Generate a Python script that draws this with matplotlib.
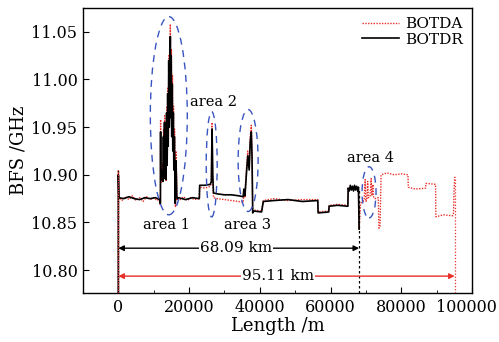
import matplotlib
matplotlib.use("Agg")
import matplotlib.pyplot as plt
import matplotlib.transforms as mtransforms
from matplotlib.patches import Ellipse

plt.rcParams['font.family'] = ['DejaVu Serif']
plt.rcParams['mathtext.fontset'] = 'dejavuserif'

# ---------------- data ----------------
botdr_x = [0, 0, 150, 1500, 3000, 4500, 6000, 7500, 9000, 10500, 11700, 11800, 11900, 11950,
           12000, 12150, 12300, 12450, 12600, 12750, 12900, 13050, 13200, 13350, 13500, 13650,
           13800, 13950, 14100, 14250, 14400, 14550, 14700, 14800, 14950, 15100, 15250, 15400,
           15550, 15700, 15850, 16000, 16100, 16250, 16400, 16550, 16700,
           17000, 19000, 21000, 22900, 23000, 24500, 26000, 26300, 26500, 26700, 26900, 28000,
           30000, 32000, 34000, 35300, 35500, 35800, 36200, 36600, 37000, 37300, 37600, 37800,
           38000, 38300, 40500, 41000, 44000, 48000, 52000, 56400, 56500, 59500, 59600, 62000,
           64900, 65000, 65300, 65600, 65900, 66200, 66500, 66800, 67100, 67400, 67700, 67900, 68090]
botdr_y = [10.775, 10.900, 10.876, 10.875, 10.877, 10.875, 10.874, 10.876, 10.875, 10.876, 10.874,
           10.870, 10.870, 10.945,
           10.895, 10.905, 10.895, 10.900, 10.893, 10.940, 10.896, 10.955, 10.900, 10.930, 10.895,
           10.965, 10.910, 10.985, 10.930, 11.020, 10.950, 10.990, 11.045, 10.960, 11.025, 10.940,
           10.995, 10.925, 10.965, 10.905, 10.940, 10.900, 10.870, 10.915, 10.900, 10.876, 10.875,
           10.876, 10.874, 10.876, 10.875, 10.889, 10.889,
           10.890, 10.893, 10.948, 10.900, 10.881, 10.880, 10.879, 10.879, 10.878, 10.877, 10.885,
           10.878, 10.900, 10.920, 10.905, 10.935, 10.945, 10.920, 10.860, 10.862, 10.861, 10.872,
           10.873, 10.874, 10.872, 10.873, 10.860, 10.861, 10.867, 10.868, 10.867, 10.886, 10.883,
           10.889, 10.884, 10.888, 10.883, 10.889, 10.884, 10.888, 10.883, 10.887, 10.843]

botda_x = [0, 0, 150, 1000, 2000, 3000, 4000, 5000, 6000, 7000, 8000, 9000, 10000, 11000,
           11700, 11800, 11900, 11950,
           12050, 12200, 12350, 12500, 12650, 12800, 12950, 13100, 13250, 13400, 13550, 13700,
           13850, 14000, 14150, 14300, 14450, 14600, 14700, 14850, 15000, 15150, 15300, 15450,
           15600, 15750, 15900, 16050, 16150, 16300, 16450, 16600, 16750,
           17500, 18500, 19500, 20500, 21500, 22900, 23000, 24500, 26000, 26300, 26500, 26700,
           26900, 28000, 30000, 32000, 34000, 35300, 35500, 35800, 36200, 36600, 37000, 37300,
           37600, 37800, 38000, 38300, 40500, 41000, 44000, 48000, 52000, 56400, 56500, 59500,
           59600, 62000, 64900, 65000, 67900, 68090, 68500, 69000, 69500, 69800, 70000, 70300,
           70500, 70700, 71200, 71500, 71700, 72000, 72200, 72600, 73500, 73700, 74000, 74300,
           76000, 78000, 80000, 81900, 82000, 84000, 86900, 87000, 89700, 89800, 92000, 94500,
           94800, 94900, 95110]
botda_y = [10.775, 10.905, 10.876, 10.873, 10.877, 10.874, 10.878, 10.873, 10.876, 10.872, 10.877,
           10.874, 10.876, 10.873, 10.875, 10.869, 10.870, 10.958,
           10.892, 10.908, 10.893, 10.912, 10.895, 10.948, 10.897, 10.962, 10.902, 10.938, 10.893,
           10.972, 10.915, 10.992, 10.935, 11.025, 10.955, 11.000, 11.058, 10.965, 11.032, 10.945,
           11.005, 10.930, 10.972, 10.910, 10.948, 10.902, 10.866, 10.925, 10.905, 10.874, 10.876,
           10.874, 10.877, 10.873, 10.876, 10.874, 10.875, 10.887, 10.886, 10.888, 10.891, 10.955,
           10.900, 10.876, 10.875, 10.874, 10.873, 10.872, 10.871, 10.882, 10.876, 10.905, 10.925,
           10.908, 10.940, 10.952, 10.925, 10.862, 10.863, 10.862, 10.873, 10.875, 10.873, 10.874,
           10.874, 10.861, 10.862, 10.868, 10.869, 10.868, 10.886, 10.885, 10.843, 10.870, 10.872,
           10.873, 10.895, 10.872, 10.874, 10.893, 10.876, 10.877, 10.896, 10.878, 10.890, 10.876,
           10.875, 10.876, 10.844, 10.846, 10.900, 10.902, 10.900, 10.901, 10.900, 10.887, 10.885,
           10.886, 10.891, 10.890, 10.856, 10.858, 10.857, 10.860, 10.879, 10.898]

fiber_lengths = [68090, 95110]          # m
length_labels = ["68.09 km", "95.11 km"]
area_labels = ["area 1", "area 2", "area 3", "area 4"]
# ellipses around areas: (center x, center y, width, height) in data units
area_centers_x = [14270, 26400, 36700, 70900]
area_centers_y = [10.962, 10.911, 10.915, 10.8816]
area_widths = [10450, 3100, 5650, 3950]
area_heights = [0.208, 0.1105, 0.107, 0.0537]
area_label_pos = [(13500, 10.847), (27000, 10.976), (36500, 10.847), (71300, 10.918)]

red = '#e8302a'

fig = plt.figure(figsize=(4.99, 3.42), dpi=100)
ax = fig.add_axes([0.1663, 0.1433, 0.7795, 0.8333])

ax.plot(botda_x, botda_y, color=red, lw=1.0, ls=(0, (1, 1)), label='BOTDA', zorder=2)
ax.plot(botdr_x, botdr_y, color='black', lw=1.2, label='BOTDR', zorder=3)

ymin, ymax = 10.776, 11.075
ax.set_xlim(-10000, 100000)
ax.set_ylim(ymin, ymax)

# guide lines
ax.plot([0, 0], [ymin, 10.905], color='black', lw=0.9, ls=(0, (2, 2)), zorder=2)
ax.plot([0, 0], [ymin, 10.905], color=red, lw=0.9, ls=(0, (1, 1)), zorder=3)
ax.plot([fiber_lengths[0]] * 2, [ymin, 10.886], color='black', lw=0.9, ls=(0, (2, 2)))
ax.plot([fiber_lengths[1]] * 2, [ymin, 10.898], color=red, lw=0.9, ls=(0, (1, 1.5)))

# distance arrows
for L, lab, yy, c, tx in zip(fiber_lengths, length_labels, [10.823, 10.7937],
                             ['black', red], [33300, 45200]):
    ax.annotate('', xy=(0, yy), xytext=(L, yy),
                arrowprops=dict(arrowstyle='<|-|>', color=c, lw=1.0,
                                mutation_scale=8, shrinkA=0, shrinkB=0))
    ax.text(tx, yy, lab, ha='center', va='center', fontsize=11,
            bbox=dict(facecolor='white', edgecolor='none', pad=0.5))

# ellipses
for cx, cy, w, h in zip(area_centers_x, area_centers_y, area_widths, area_heights):
    ax.add_patch(Ellipse((cx, cy), w, h, fill=False, edgecolor='#3a55c0',
                         lw=1.0, ls=(0, (5, 4)), zorder=4))
for lab, (lx, ly) in zip(area_labels, area_label_pos):
    ax.text(lx, ly, lab, ha='center', va='center', fontsize=10.5)

ax.set_xticks([0, 20000, 40000, 60000, 80000, 100000])
ax.set_xticks(range(-10000, 100001, 10000), minor=True)
ax.set_yticks([10.80, 10.85, 10.90, 10.95, 11.00, 11.05])
ax.set_yticklabels(['10.80', '10.85', '10.90', '10.95', '11.00', '11.05'])
ax.tick_params(direction='in', labelsize=11.5, length=4, width=0.8, pad=4)
ax.tick_params(which='minor', direction='in', length=2.5, width=0.6)
for s in ax.spines.values():
    s.set_linewidth(1.0)

# keep the last x tick label inside the figure
last = ax.get_xticklabels()[-1]
last.set_transform(last.get_transform() +
                   mtransforms.ScaledTranslation(-6 / 100, 0, fig.dpi_scale_trans))

ax.set_xlabel('Length /m', fontsize=13, labelpad=1)
ax.set_ylabel('BFS /GHz', fontsize=13, labelpad=3)

leg = ax.legend(loc='upper right', frameon=False, fontsize=11, handlelength=2.4,
                handletextpad=0.4, labelspacing=0.1, borderaxespad=0.2)

fig.savefig('out.png', dpi=100)
